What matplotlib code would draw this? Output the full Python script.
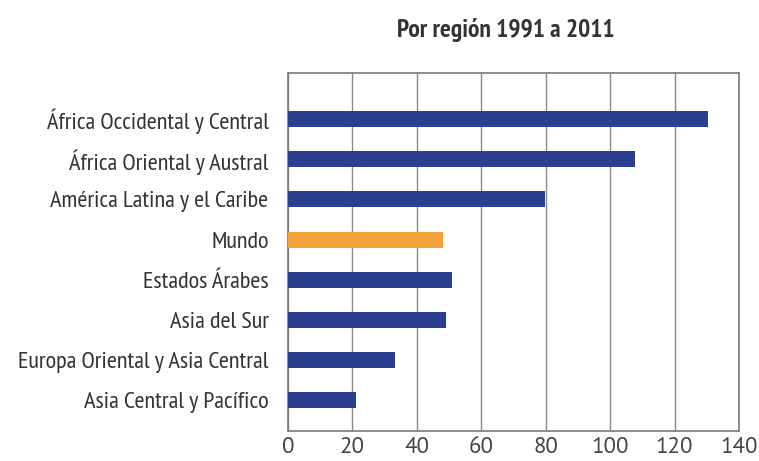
import numpy as np
import matplotlib
matplotlib.use("Agg")
from matplotlib import pyplot as plt

regions = [
    "Asia Central y Pacífico",
    "Europa Oriental y Asia Central",
    "Asia del Sur",
    "Estados Árabes",
    "Mundo",
    "América Latina y el Caribe",
    "África Oriental y Austral",
    "África Occidental y Central",
]
values = [21.2, 33.2, 49.0, 51.0, 48.2, 79.8, 107.8, 130.5]
xticks = [0, 20, 40, 60, 80, 100, 120, 140]

blue = "#2b3f8e"
orange = "#f4a23c"
colors = [orange if r == "Mundo" else blue for r in regions]

plt.rcParams["font.family"] = ["PT Sans Narrow", "DejaVu Sans"]

fig = plt.figure(figsize=(7.59, 4.61), dpi=100)
ax = fig.add_axes([288 / 759, 1 - 431 / 461, (739 - 288) / 759, (431 - 73) / 461])

y = np.arange(len(regions))
ax.barh(y, values, height=0.4, color=colors, zorder=3)

ax.set_xlim(0, 140)
ax.set_ylim(-0.77, 8.15)
ax.set_xticks(xticks)
ax.set_yticks(y)
ax.set_yticklabels(regions, fontsize=17.6, color="#333333")
ax.tick_params(axis="x", labelsize=16.5, labelcolor="#444444", length=0, pad=4)
for lbl in ax.get_xticklabels():
    lbl.set_family(["PT Sans", "DejaVu Sans"])
ax.tick_params(axis="y", length=0, pad=14)
ax.grid(axis="x", color="#8a8a8a", linewidth=1.0, zorder=0)
for s in ax.spines.values():
    s.set_color("#7a7a7a")
    s.set_linewidth(1.2)

fig.text(0.666, 0.935, "Por región 1991 a 2011", ha="center", va="center",
         fontsize=18.4, fontweight="bold", color="#333333")

fig.savefig("out.png", dpi=100)
